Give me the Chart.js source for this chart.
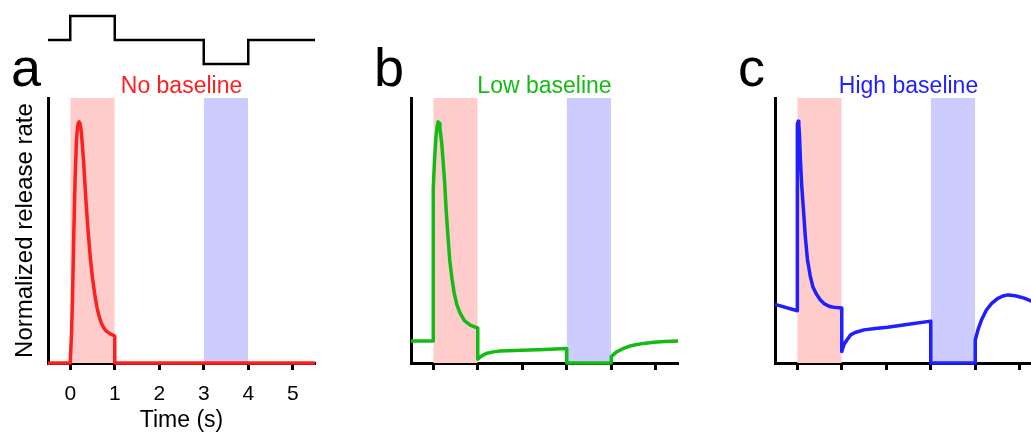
<!DOCTYPE html>
<html lang="en">
<head>
<meta charset="UTF-8" />
<title>Normalized release rate</title>
<script src="https://cdn.jsdelivr.net/npm/chart.js"></script>
<style>
    body { margin: 0; background: #fff; width: 1031px; height: 437px; overflow: hidden; position: relative; }
    canvas { position: absolute; top: 0; }
</style>
</head>
<body>

<canvas id="panelA" width="330" height="437" style="left:0"></canvas>
<canvas id="panelB" width="330" height="437" style="left:363px"></canvas>
<canvas id="panelC" width="330" height="437" style="left:727px"></canvas>
<canvas id="stim" width="330" height="80" style="left:0"></canvas>

<script>
// stimulus protocol (top trace): +1 = on, -1 = off
const stimTime  = [-0.5, 0, 0, 1, 1, 3, 3, 4, 4, 5.5];
const stimLevel = [0, 0, 1, 1, 0, 0, -1, -1, 0, 0];

// shaded windows (s)
const onWindow  = [0, 1];
const offWindow = [3, 4];

const tickTimes = [0, 1, 2, 3, 4, 5];

// a - no baseline
const timeA = [-0.5, 0, 0.03, 0.05, 0.08, 0.11, 0.14, 0.16, 0.18, 0.2, 0.22, 0.25, 0.3, 0.35, 0.4, 0.45, 0.5, 0.55, 0.6, 0.65, 0.7, 0.75, 0.8, 0.9, 1.0, 1.0, 5.5];
const rateA = [0, 0, 0.12, 0.24, 0.49, 0.7, 0.84, 0.885, 0.905, 0.91, 0.903, 0.87, 0.76, 0.62, 0.5, 0.4, 0.32, 0.26, 0.21, 0.175, 0.15, 0.133, 0.122, 0.11, 0.102, 0, 0];

// b - low baseline
const timeB = [-0.5, 0, 0, 0.03, 0.06, 0.09, 0.11, 0.13, 0.15, 0.19, 0.22, 0.26, 0.29, 0.33, 0.37, 0.42, 0.47, 0.53, 0.6, 0.7, 0.83, 1.0, 1.0, 1.05, 1.12, 1.21, 1.35, 1.51, 2.0, 2.5, 3.0, 3.0, 4.0, 4.0, 4.12, 4.25, 4.4, 4.55, 4.73, 4.95, 5.2, 5.5];
const rateB = [0.083, 0.083, 0.66, 0.77, 0.85, 0.895, 0.91, 0.905, 0.885, 0.83, 0.766, 0.67, 0.577, 0.48, 0.389, 0.32, 0.264, 0.22, 0.189, 0.16, 0.143, 0.132, 0.014, 0.022, 0.03, 0.037, 0.042, 0.045, 0.048, 0.051, 0.055, 0, 0, 0.024, 0.042, 0.053, 0.063, 0.069, 0.074, 0.078, 0.081, 0.083];

// c - high baseline
const timeC = [-0.5, 0, 0, 0.005, 0.02, 0.035, 0.05, 0.07, 0.1, 0.14, 0.18, 0.23, 0.29, 0.35, 0.43, 0.52, 0.62, 0.75, 0.88, 1.0, 1.0, 1.05, 1.12, 1.2, 1.3, 1.5, 1.75, 2.03, 2.5, 3.0, 3.0, 4.0, 4.0, 4.07, 4.14, 4.25, 4.37, 4.5, 4.62, 4.74, 4.9, 5.1, 5.3, 5.5];
const rateC = [0.221, 0.197, 0.87, 0.9, 0.912, 0.9, 0.86, 0.77, 0.67, 0.577, 0.48, 0.389, 0.33, 0.288, 0.26, 0.238, 0.222, 0.212, 0.209, 0.208, 0.043, 0.07, 0.088, 0.106, 0.115, 0.125, 0.13, 0.135, 0.146, 0.158, 0, 0, 0.087, 0.13, 0.162, 0.2, 0.225, 0.243, 0.253, 0.257, 0.254, 0.245, 0.231, 0.22];

const FONT = '"Liberation Sans", Arial, sans-serif';

const pts = (xs, ys) => xs.map((x, i) => ({ x: x, y: ys[i] }));

// panel letter + coloured title above each plot
const panelText = {
    id: 'panelText',
    afterDraw(chart, args, opts) {
        const { ctx, chartArea } = chart;
        ctx.save();
        ctx.textBaseline = 'alphabetic';
        ctx.fillStyle = '#000';
        ctx.font = '54px ' + FONT;
        ctx.textAlign = 'left';
        ctx.fillText(opts.letter, chartArea.left - 37, 86);
        ctx.fillStyle = opts.color;
        ctx.font = '23px ' + FONT;
        ctx.textAlign = 'center';
        ctx.fillText(opts.title, (chartArea.left + chartArea.right) / 2, 92.5);
        ctx.restore();
    }
};

function shade(win, color) {
    return {
        data: pts(win, [1, 1]),
        borderWidth: 0,
        pointRadius: 0,
        backgroundColor: color,
        fill: 'origin',
        order: 2
    };
}

function makePanel(id, times, rates, color, letter, title, showLabels) {
    new Chart(document.getElementById(id), {
        type: 'line',
        data: {
            datasets: [
                {
                    data: pts(times, rates),
                    borderColor: color,
                    borderWidth: 3.5,
                    borderJoinStyle: 'round',
                    pointRadius: 0,
                    tension: 0,
                    fill: false,
                    clip: false,
                    order: 0
                },
                shade(onWindow, '#ffcccc'),
                shade(offWindow, '#ccccff')
            ]
        },
        options: {
            responsive: false,
            animation: false,
            devicePixelRatio: 1,
            layout: { padding: { top: 98, right: 15, left: 0, bottom: 0 } },
            plugins: {
                legend: { display: false },
                tooltip: { enabled: false },
                panelText: { letter: letter, title: title, color: color }
            },
            scales: {
                x: {
                    type: 'linear',
                    min: -0.5,
                    max: 5.5,
                    afterBuildTicks: s => { s.ticks = tickTimes.map(v => ({ value: v })); },
                    afterFit: s => { s.height = 74; },
                    grid: { drawOnChartArea: false, drawTicks: true, tickLength: 7, tickWidth: 3, tickColor: '#000' },
                    border: { display: true, color: '#000', width: 3 },
                    ticks: {
                        display: showLabels,
                        autoSkip: false,
                        maxRotation: 0,
                        padding: 12,
                        color: '#000',
                        font: { family: FONT, size: 21 }
                    },
                    title: {
                        display: showLabels,
                        text: 'Time (s)',
                        color: '#000',
                        font: { family: FONT, size: 23 },
                        padding: { top: 0, bottom: 3 }
                    }
                },
                y: {
                    type: 'linear',
                    min: 0,
                    max: 1,
                    afterFit: s => { s.width = 48; },
                    grid: { display: false },
                    border: { display: true, color: '#000', width: 3 },
                    ticks: { display: false },
                    title: {
                        display: showLabels,
                        text: 'Normalized release rate',
                        color: '#000',
                        font: { family: FONT, size: 24 },
                        padding: { top: 11, bottom: 0 }
                    }
                }
            }
        },
        plugins: [panelText]
    });
}

makePanel('panelA', timeA, rateA, '#ff1f1f', 'a', 'No baseline', true);
makePanel('panelB', timeB, rateB, '#14bb14', 'b', 'Low baseline', false);
makePanel('panelC', timeC, rateC, '#1f1fff', 'c', 'High baseline', false);

// stimulus trace above panel a
new Chart(document.getElementById('stim'), {
    type: 'line',
    data: {
        datasets: [{
            data: pts(stimTime, stimLevel),
            borderColor: '#000',
            borderWidth: 2.5,
            pointRadius: 0,
            tension: 0,
            fill: false,
            clip: false
        }]
    },
    options: {
        responsive: false,
        animation: false,
        devicePixelRatio: 1,
        layout: { padding: { top: 16, bottom: 16, left: 48, right: 15 } },
        plugins: { legend: { display: false }, tooltip: { enabled: false } },
        scales: {
            x: { type: 'linear', min: -0.5, max: 5.5, display: false },
            y: { type: 'linear', min: -1, max: 1, display: false }
        }
    }
});
</script>
</body>
</html>
